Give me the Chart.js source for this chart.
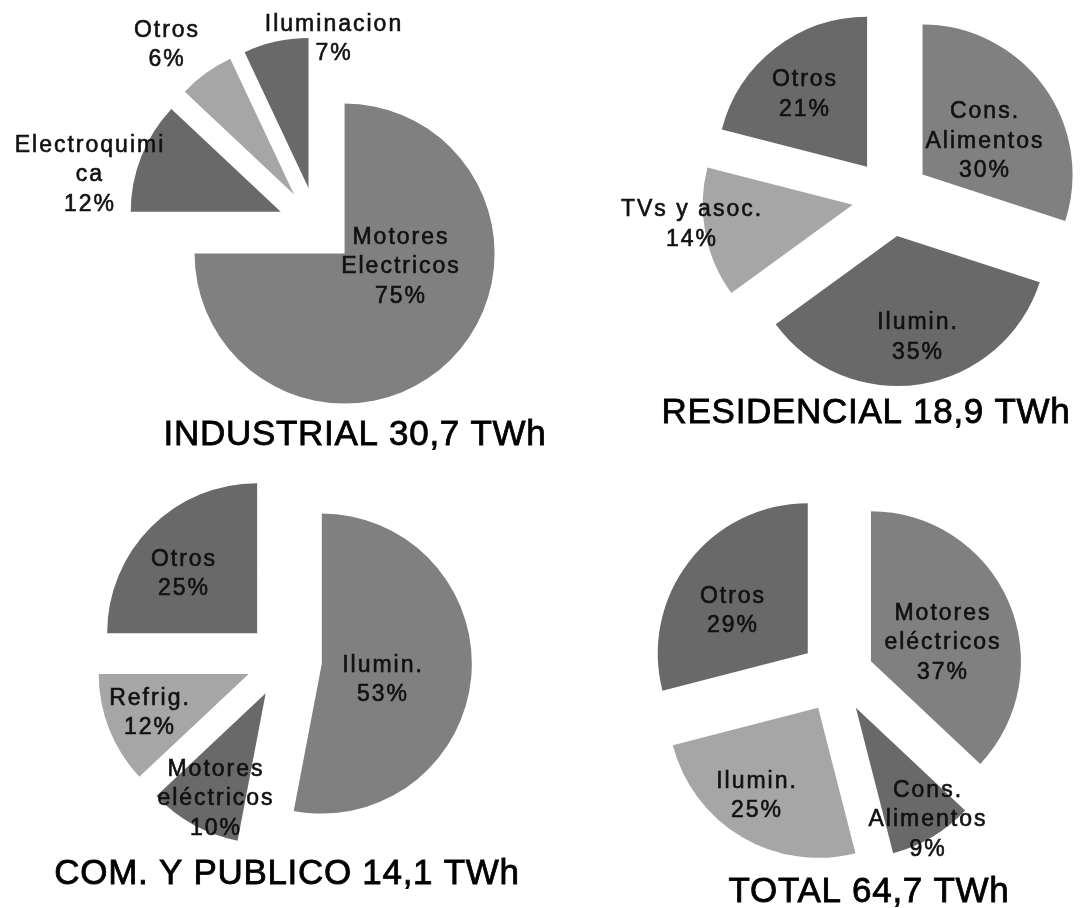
<!DOCTYPE html>
<html>
<head>
<meta charset="utf-8">
<script src="https://cdn.jsdelivr.net/npm/chart.js@4.4.0/dist/chart.umd.min.js"></script>
<style>
  body { margin: 0; background: #fff; }
  #wrap { position: relative; width: 1081px; height: 908px; }
  #wrap canvas { position: absolute; left: 0; top: 0; }
</style>
</head>
<body>
<div id="wrap">
  <canvas id="industrial" width="1081" height="908"></canvas>
  <canvas id="residencial" width="1081" height="908"></canvas>
  <canvas id="comercial" width="1081" height="908"></canvas>
  <canvas id="total" width="1081" height="908"></canvas>
</div>
<script>
// slices go clockwise from 12 o'clock
var industrialLabels = [['Motores', 'Electricos'], ['Electroquimi', 'ca'], ['Otros'], ['Iluminacion']];
var industrialValues = [75, 12, 6, 7];

var residencialLabels = [['Cons.', 'Alimentos'], ['Ilumin.'], ['TVs y asoc.'], ['Otros']];
var residencialValues = [30, 35, 14, 21];

var comercialLabels = [['Ilumin.'], ['Motores', 'eléctricos'], ['Refrig.'], ['Otros']];
var comercialValues = [53, 10, 12, 25];

var totalLabels = [['Motores', 'eléctricos'], ['Cons.', 'Alimentos'], ['Ilumin.'], ['Otros']];
var totalValues = [37, 9, 25, 29];

var titles = ['INDUSTRIAL 30,7 TWh', 'RESIDENCIAL 18,9 TWh', 'COM. Y PUBLICO 14,1 TWh', 'TOTAL 64,7 TWh'];

var MID = '#808080', DARK = '#696969', LIGHT = '#a6a6a6';
var FONT = '"Liberation Sans", Arial, sans-serif';
var LINE = 29.5;

function pieChart(id, labels, values, opts) {
    // draw every slice pulled out along its middle angle
    var explode = {
        id: 'explode',
        beforeDatasetDraw: function (chart, args) {
            var ctx = chart.ctx;
            args.meta.data.forEach(function (arc) {
                var mid = (arc.startAngle + arc.endAngle) / 2;
                ctx.save();
                ctx.translate(Math.cos(mid) * opts.explode, Math.sin(mid) * opts.explode);
                arc.draw(ctx);
                ctx.restore();
            });
            return false;
        }
    };

    var texts = {
        id: 'texts',
        afterDatasetsDraw: function (chart) {
            var ctx = chart.ctx;
            var arcs = chart.getDatasetMeta(0).data;
            var cx = arcs[0].x, cy = arcs[0].y;
            ctx.save();
            ctx.fillStyle = ctx.strokeStyle = '#111';
            ctx.lineWidth = 0.6;
            ctx.textAlign = 'center';
            ctx.textBaseline = 'middle';
            ctx.font = '23px ' + FONT;
            ctx.letterSpacing = '2px';
            labels.forEach(function (lab, i) {
                var lines = lab.concat([values[i] + '%']);
                var x = cx + opts.shifts[i][0];
                var y = cy + opts.shifts[i][1] - (lines.length - 1) * LINE / 2;
                lines.forEach(function (t, j) {
                    ctx.fillText(t, x, y + j * LINE);
                    ctx.strokeText(t, x, y + j * LINE);
                });
            });
            ctx.fillStyle = ctx.strokeStyle = '#000';
            ctx.lineWidth = 0.8;
            ctx.textBaseline = 'alphabetic';
            ctx.font = '35px ' + FONT;
            ctx.letterSpacing = '0.7px';
            ctx.fillText(opts.title, cx + opts.titleShift[0], cy + opts.titleShift[1]);
            ctx.strokeText(opts.title, cx + opts.titleShift[0], cy + opts.titleShift[1]);
            ctx.restore();
        }
    };

    return new Chart(document.getElementById(id), {
        type: 'pie',
        data: {
            labels: labels,
            datasets: [{
                data: values,
                backgroundColor: [MID, DARK, LIGHT, DARK],
                borderWidth: 0
            }]
        },
        options: {
            responsive: false,
            animation: false,
            radius: 150,
            layout: { padding: opts.padding },
            plugins: {
                legend: { display: false },
                tooltip: { enabled: false }
            },
            events: []
        },
        plugins: [explode, texts]
    });
}

pieChart('industrial', industrialLabels, industrialValues, {
    padding: { right: 447, bottom: 456 },
    explode: 39,
    shifts: [[84, 41], [-227, -51], [-150, -181], [17, -187]],
    title: titles[0],
    titleShift: [38, 219]
});

pieChart('residencial', residencialLabels, residencialValues, {
    padding: { left: 701, bottom: 513 },
    explode: 39,
    shifts: [[94, -56], [27, 140], [-199, 27], [-86, -103]],
    title: titles[1],
    titleShift: [-25, 225]
});

pieChart('comercial', comercialLabels, comercialValues, {
    padding: { right: 513, top: 412 },
    explode: 38,
    shifts: [[99, 20], [-68, 139], [-134, 53], [-100, -86]],
    title: titles[2],
    titleShift: [3, 224]
});

pieChart('total', totalLabels, totalValues, {
    padding: { left: 593, top: 444 },
    explode: 37,
    shifts: [[106, -33], [91, 144], [-80, 120], [-104, -65]],
    title: titles[3],
    titleShift: [32, 226]
});
</script>
</body>
</html>
